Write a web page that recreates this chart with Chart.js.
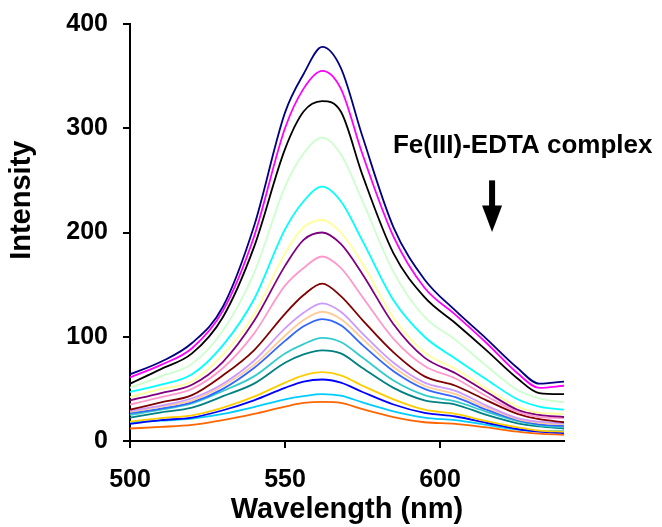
<!DOCTYPE html>
<html>
<head>
<meta charset="utf-8">
<script src="https://cdn.jsdelivr.net/npm/chart.js@4.4.1/dist/chart.umd.min.js"></script>
<style>
  body { margin: 0; background: #fff; }
  canvas { display: block; }
</style>
</head>
<body>
<canvas id="myChart" width="662" height="527"></canvas>
<script>
// wavelengths (nm) where each spectrum was read
const wavelengths = [500, 510, 520, 530, 540, 550, 556, 562, 568, 575, 585, 595, 605, 615, 625, 632, 640];

// spectra, from the strongest (top) to the weakest (bottom)
const navy      = [64, 76, 94, 129, 206, 315, 352, 378, 358, 292, 205, 155, 125, 98, 70, 55, 57];
const magenta   = [61, 73, 89, 125, 196, 300, 338, 355, 338, 275, 196, 147, 121, 94, 65, 51, 53];
const black     = [55, 69, 84, 119, 186, 280, 316, 326, 316, 255, 180, 138, 113, 87, 60, 46, 45];
const lightGreen = [51, 62, 74, 106, 161, 244, 276, 291, 275, 230, 162, 119, 97, 72, 49, 41, 37];
const cyan      = [47, 54, 64, 92, 136, 203, 230, 244, 230, 192, 135, 100, 79, 59, 40, 33, 30];
const yellow    = [42, 50, 57, 83, 121, 180, 205, 212, 200, 170, 118, 85, 69, 50, 33, 27, 26];
const purple    = [39, 46, 54, 76, 115, 168, 193, 200, 189, 160, 112, 80, 65, 47, 30, 25, 23];
const pink      = [35, 42, 50, 70, 103, 149, 166, 177, 166, 138, 98, 72, 60, 43, 28, 23, 22];
const darkRed   = [30, 37, 44, 63, 87, 122, 140, 151, 139, 116, 85, 62, 53, 39, 26, 21, 18];
const lavender  = [29, 34, 41, 55, 77, 108, 123, 132, 124, 103, 75, 56, 48, 34, 22, 18.5, 17];
const peach     = [28, 33, 39, 53, 73, 101, 116, 124, 117, 98, 71, 53, 45, 32, 21, 17.5, 16];
const royal     = [26.5, 31, 37, 50, 70, 96, 110, 117, 111, 92, 67, 50, 42, 30, 20, 16, 14.5];
const turquoise = [25, 30, 36, 48, 62, 84, 93, 99, 95, 80, 58, 44, 38, 28, 19, 15, 13];
const teal      = [22.5, 27.5, 32, 43, 55, 75, 83, 87, 84, 70, 51, 39, 35, 25, 17, 14, 12];
const gold      = [18.5, 22, 24.5, 32, 42.5, 56, 63, 66, 63, 53, 40, 30, 26, 19, 13, 10, 9];
const blue      = [16.5, 20, 22.5, 29.5, 39, 51, 57, 59, 56, 47, 35, 27, 23.5, 17.5, 11.5, 9, 7.5];
const sky       = [18, 19.5, 21.5, 26, 32.5, 40, 43, 45, 43.5, 37, 28.5, 22.5, 20, 15.5, 11, 9.5, 9.5];
const orange    = [12, 13.5, 15.5, 20, 26, 33, 36.5, 37.5, 36.5, 30.5, 23, 18, 16.5, 13, 9, 7, 6];

const xTicks = [500, 550, 600];
const yTicks = [0, 100, 200, 300, 400];
const yTitle = 'Intensity';
const annotationText = 'Fe(III)-EDTA complex';

const series = [
    [navy, '#000080'], [magenta, '#FF00FF'], [black, '#000000'], [lightGreen, '#CCFFCC'],
    [cyan, '#00FFFF'], [yellow, '#FFFF99'], [purple, '#800080'], [pink, '#FF99CC'],
    [darkRed, '#800000'], [lavender, '#CC99FF'], [peach, '#FFCC99'], [royal, '#3366FF'],
    [turquoise, '#33CCCC'], [teal, '#008080'], [gold, '#FFCC00'], [blue, '#0000FF'],
    [sky, '#00CCFF'], [orange, '#FF6600']
];

const FONT = '"Liberation Sans", Arial, sans-serif';
Chart.defaults.font.family = FONT;
Chart.defaults.color = '#000';

// y title (sits above the axis middle), text label and down arrow
const annotation = {
    id: 'annotation',
    afterDraw(chart) {
        const {ctx, scales: {x, y}} = chart;
        ctx.save();
        ctx.fillStyle = '#000';

        ctx.save();
        ctx.font = 'bold 29px ' + FONT;
        ctx.textAlign = 'center';
        ctx.textBaseline = 'middle';
        ctx.translate(22, y.getPixelForValue(231));
        ctx.rotate(-Math.PI / 2);
        ctx.fillText(yTitle, 0, 0);
        ctx.restore();

        ctx.font = 'bold 26px ' + FONT;
        ctx.textBaseline = 'alphabetic';
        ctx.fillText(annotationText, x.getPixelForValue(584.8), y.getPixelForValue(276));

        const ax = x.getPixelForValue(616.8);
        const top = y.getPixelForValue(250);
        const headTop = y.getPixelForValue(226);
        const tip = y.getPixelForValue(200.5);
        ctx.fillRect(ax - 3, top, 6, headTop - top + 1);
        ctx.beginPath();
        ctx.moveTo(ax - 10, headTop);
        ctx.lineTo(ax + 10, headTop);
        ctx.lineTo(ax, tip);
        ctx.closePath();
        ctx.fill();
        ctx.restore();
    }
};

const ctx = document.getElementById('myChart').getContext('2d');
const myChart = new Chart(ctx, {
    type: 'line',
    data: {
        datasets: series.map(([values, color]) => ({
            data: wavelengths.map((w, i) => ({x: w, y: values[i]})),
            borderColor: color,
            borderWidth: 1.8,
            pointRadius: 0,
            fill: false,
            cubicInterpolationMode: 'monotone'
        }))
    },
    options: {
        responsive: false,
        animation: false,
        layout: { padding: { top: 24, right: 98, bottom: 0, left: 0 } },
        plugins: { legend: { display: false }, tooltip: { enabled: false } },
        scales: {
            x: {
                type: 'linear',
                min: 500,
                max: 640,
                afterFit: (scale) => { scale.height = 86; scale.paddingLeft = 0; scale.paddingRight = 0; },
                afterBuildTicks: (scale) => { scale.ticks = xTicks.map(v => ({value: v})); },
                ticks: { padding: 17, font: { size: 25, weight: 'bold' }, maxRotation: 0 },
                grid: { drawOnChartArea: false, drawTicks: true, tickLength: 7, color: '#000', lineWidth: 2 },
                border: { display: true, color: '#000', width: 2 },
                title: { display: true, text: 'Wavelength (nm)', font: { size: 29, weight: 'bold' }, padding: { top: 0, bottom: 0 } }
            },
            y: {
                type: 'linear',
                min: 0,
                max: 400,
                afterFit: (scale) => { scale.width = 130; scale.paddingTop = 0; scale.paddingBottom = 0; },
                afterBuildTicks: (scale) => { scale.ticks = yTicks.map(v => ({value: v})); },
                ticks: { padding: 15, font: { size: 25, weight: 'bold' } },
                grid: { drawOnChartArea: false, drawTicks: true, tickLength: 7, color: '#000', lineWidth: 2 },
                border: { display: true, color: '#000', width: 2 },
                title: { display: false }
            }
        }
    },
    plugins: [annotation]
});
</script>
</body>
</html>
